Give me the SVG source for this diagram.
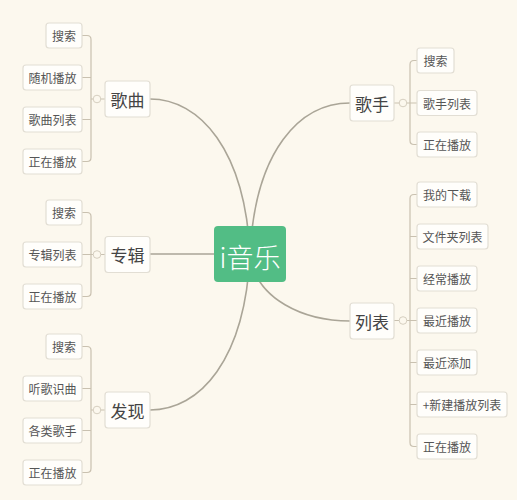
<svg xmlns="http://www.w3.org/2000/svg" width="517" height="500" viewBox="0 0 517 500">
<style>
.bg{fill:#fcf8ee}
.leaf rect{fill:#fffefb;stroke:#e2ded4;stroke-width:1.2}
.leaf text{font-family:"Noto Sans CJK SC",sans-serif;font-size:12px;fill:#555;text-anchor:middle;dominant-baseline:central}
.main rect{fill:#fffefb;stroke:#e2ded4;stroke-width:1.2}
.main text{font-family:"Noto Sans CJK SC",sans-serif;font-size:17px;fill:#444;text-anchor:middle;dominant-baseline:central}
.curve{fill:none;stroke:#aaa597;stroke-width:1.6}
.br{fill:none;stroke:#c9c1b0;stroke-width:1.2}
.knob{fill:#fcf8ee;stroke:#d6cfc0;stroke-width:1}
</style>
<rect class="bg" x="0" y="0" width="517" height="500"/>
<g id="connectors">
<path class="curve" d="M150,99 C200,99 245,150 250,254"/>
<path class="curve" d="M150,254 L250,254"/>
<path class="curve" d="M150,410 C200,410 245,360 250,254"/>
<path class="curve" d="M350,103 C300,103 255,150 250,254"/>
<path class="curve" d="M350,321 C305,321 255,300 250,254"/>
<path class="br" d="M82,35.5 H87 Q91,35.5 91,39.5 V157.5 Q91,161.5 87,161.5 H82 M82,77.5 H91 M82,119.5 H91 M91,99 H105"/>
<path class="br" d="M82,212.5 H87 Q91,212.5 91,216.5 V292.5 Q91,296.5 87,296.5 H82 M82,254.5 H105"/>
<path class="br" d="M82,346.5 H87 Q91,346.5 91,350.5 V468.5 Q91,472.5 87,472.5 H82 M82,388.5 H91 M82,430.5 H91 M91,410 H105"/>
<path class="br" d="M417,60.5 H414 Q410,60.5 410,64.5 V140.5 Q410,144.5 414,144.5 H417 M394,103 H417"/>
<path class="br" d="M417,194.5 H414 Q410,194.5 410,198.5 V442.5 Q410,446.5 414,446.5 H417 M410,236.5 H417 M410,278.5 H417 M394,320.5 H417 M410,362.5 H417 M410,404.5 H417"/>
<circle class="knob" cx="97" cy="99" r="3.8"/>
<circle class="knob" cx="97" cy="254.5" r="3.8"/>
<circle class="knob" cx="97" cy="410" r="3.8"/>
<circle class="knob" cx="403" cy="103" r="3.8"/>
<circle class="knob" cx="403" cy="320.5" r="3.8"/>
</g>
<g id="root">
<rect x="214" y="226" width="72" height="56" rx="4" fill="#52bd85"/>
<text x="250" y="256" font-family="Noto Sans CJK SC, sans-serif" font-size="27" font-weight="300" fill="#ffffff" text-anchor="middle" dominant-baseline="central">i音乐</text>
</g>
<g id="gequ" class="main"><rect x="105" y="81" width="45" height="36" rx="3"/><text x="127.5" y="99">歌曲</text></g>
<g id="zhuanji" class="main"><rect x="105" y="236.5" width="45" height="36" rx="3"/><text x="127.5" y="254.5">专辑</text></g>
<g id="faxian" class="main"><rect x="105" y="392" width="45" height="36" rx="3"/><text x="127.5" y="410">发现</text></g>
<g id="geshou" class="main"><rect x="350" y="85" width="44" height="36" rx="3"/><text x="372" y="103">歌手</text></g>
<g id="liebiao" class="main"><rect x="350" y="303" width="44" height="36" rx="3"/><text x="372" y="321">列表</text></g>

<g id="gequ-sousuo" class="leaf"><rect x="46" y="23" width="36" height="25" rx="3"/><text x="64" y="35.5">搜索</text></g>
<g id="gequ-suiji" class="leaf"><rect x="23" y="65" width="59" height="25" rx="3"/><text x="52.5" y="77.5">随机播放</text></g>
<g id="gequ-liebiao" class="leaf"><rect x="23" y="107" width="59" height="25" rx="3"/><text x="52.5" y="119.5">歌曲列表</text></g>
<g id="gequ-zhengzai" class="leaf"><rect x="23" y="149" width="59" height="25" rx="3"/><text x="52.5" y="161.5">正在播放</text></g>

<g id="zhuanji-sousuo" class="leaf"><rect x="46" y="200" width="36" height="25" rx="3"/><text x="64" y="212.5">搜索</text></g>
<g id="zhuanji-liebiao" class="leaf"><rect x="23" y="242" width="59" height="25" rx="3"/><text x="52.5" y="254.5">专辑列表</text></g>
<g id="zhuanji-zhengzai" class="leaf"><rect x="23" y="284" width="59" height="25" rx="3"/><text x="52.5" y="296.5">正在播放</text></g>

<g id="faxian-sousuo" class="leaf"><rect x="46" y="334" width="36" height="25" rx="3"/><text x="64" y="346.5">搜索</text></g>
<g id="faxian-tingge" class="leaf"><rect x="23" y="376" width="59" height="25" rx="3"/><text x="52.5" y="388.5">听歌识曲</text></g>
<g id="faxian-gelei" class="leaf"><rect x="23" y="418" width="59" height="25" rx="3"/><text x="52.5" y="430.5">各类歌手</text></g>
<g id="faxian-zhengzai" class="leaf"><rect x="23" y="460" width="59" height="25" rx="3"/><text x="52.5" y="472.5">正在播放</text></g>

<g id="geshou-sousuo" class="leaf"><rect x="417" y="48" width="37" height="25" rx="3"/><text x="435.5" y="60.5">搜索</text></g>
<g id="geshou-liebiao" class="leaf"><rect x="417" y="90.5" width="60" height="25" rx="3"/><text x="447" y="103">歌手列表</text></g>
<g id="geshou-zhengzai" class="leaf"><rect x="417" y="132" width="60" height="25" rx="3"/><text x="447" y="144.5">正在播放</text></g>

<g id="liebiao-xiazai" class="leaf"><rect x="417" y="182" width="60" height="25" rx="3"/><text x="447" y="194.5">我的下载</text></g>
<g id="liebiao-wenjianjia" class="leaf"><rect x="417" y="224" width="71" height="25" rx="3"/><text x="452.5" y="236.5">文件夹列表</text></g>
<g id="liebiao-jingchang" class="leaf"><rect x="417" y="266" width="60" height="25" rx="3"/><text x="447" y="278.5">经常播放</text></g>
<g id="liebiao-zuijinbofang" class="leaf"><rect x="417" y="308" width="60" height="25" rx="3"/><text x="447" y="320.5">最近播放</text></g>
<g id="liebiao-zuijintianjia" class="leaf"><rect x="417" y="350" width="60" height="25" rx="3"/><text x="447" y="362.5">最近添加</text></g>
<g id="liebiao-xinjian" class="leaf"><rect x="417" y="392" width="90" height="25" rx="3"/><text x="462" y="404.5">+新建播放列表</text></g>
<g id="liebiao-zhengzai" class="leaf"><rect x="417" y="434" width="60" height="25" rx="3"/><text x="447" y="446.5">正在播放</text></g>
</svg>
